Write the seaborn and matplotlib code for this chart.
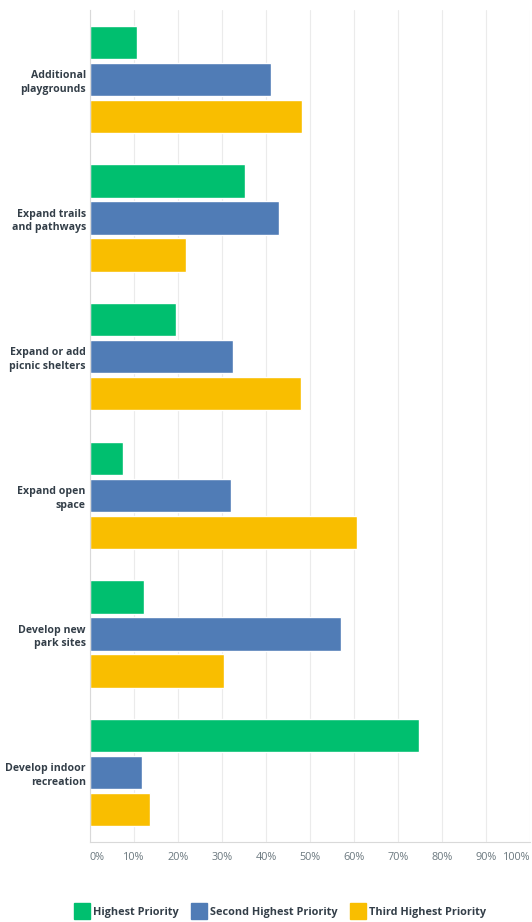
import matplotlib
matplotlib.use("Agg")
import matplotlib.pyplot as plt
from matplotlib.lines import Line2D
import seaborn as sns
import pandas as pd

categories = ["Additional\nplaygrounds", "Expand trails\nand pathways", "Expand or add\npicnic shelters",
              "Expand open\nspace", "Develop new\npark sites", "Develop indoor\nrecreation"]
series = ["Highest Priority", "Second Highest Priority", "Third Highest Priority"]
highest = [10.7, 35.2, 19.5, 7.5, 12.3, 74.8]
second = [41.1, 43.0, 32.5, 32.0, 57.0, 11.8]
third = [48.2, 21.8, 48.0, 60.7, 30.5, 13.6]
xticks = [0, 10, 20, 30, 40, 50, 60, 70, 80, 90, 100]
xticklabels = ["0%", "10%", "20%", "30%", "40%", "50%", "60%", "70%", "80%", "90%", "100%"]
colors = ["#00BF6F", "#507CB6", "#F9BE00"]

rows = []
for vals, s in zip([highest, second, third], series):
    for c, v in zip(categories, vals):
        rows.append({"category": c, "series": s, "value": v})
df = pd.DataFrame(rows)

sns.set_theme(style="white")
plt.rcParams['font.family'] = ['Open Sans', 'DejaVu Sans']

fig = plt.figure(figsize=(5.32, 9.22), dpi=100)
ax = fig.add_axes([90/532, 1 - 842/922, 440/532, 832/922])

sns.barplot(data=df, x="value", y="category", hue="series", orient="h",
            palette=colors, width=0.8, gap=0.1, ax=ax, order=categories,
            hue_order=series, legend=False, saturation=1, errorbar=None)

ax.set_xlim(0, 100)
ax.set_ylim(len(categories) - 0.5, -0.5)
ax.set_xticks(xticks)
ax.set_xticklabels(xticklabels)
ax.set_xlabel("")
ax.set_ylabel("")
ax.grid(axis="x", color="#ebebeb", linewidth=0.8)
ax.set_axisbelow(True)
for side in ["top", "right"]:
    ax.spines[side].set_visible(False)
ax.spines["left"].set_color("#d9d9d9")
ax.spines["bottom"].set_color("#d9d9d9")
ax.spines["left"].set_linewidth(0.8)
ax.spines["bottom"].set_linewidth(0.8)
ax.tick_params(axis="x", length=0, pad=7, labelsize=7.8, labelcolor="#6b787f")
ax.tick_params(axis="y", length=0, pad=3, labelsize=7.6, labelcolor="#333e48")
for lab in ax.get_yticklabels():
    lab.set_fontweight("bold")
    lab.set_horizontalalignment("right")
    lab.set_linespacing(1.35)
xl = ax.get_xticklabels()
xl[0].set_horizontalalignment("left")
xl[-1].set_horizontalalignment("right")

handles = [Line2D([0], [0], marker="s", linestyle="", markersize=11,
                  markerfacecolor=c, markeredgecolor=c) for c in colors]
leg = fig.legend(handles, series, loc="center", bbox_to_anchor=(0.528, 1 - 912/922),
                 ncol=3, frameon=False, handlelength=1.0, handletextpad=0.5,
                 columnspacing=1.4, prop={"size": 7.8, "weight": "bold"})
for t in leg.get_texts():
    t.set_color("#333e48")

fig.savefig("out.png", dpi=100)
